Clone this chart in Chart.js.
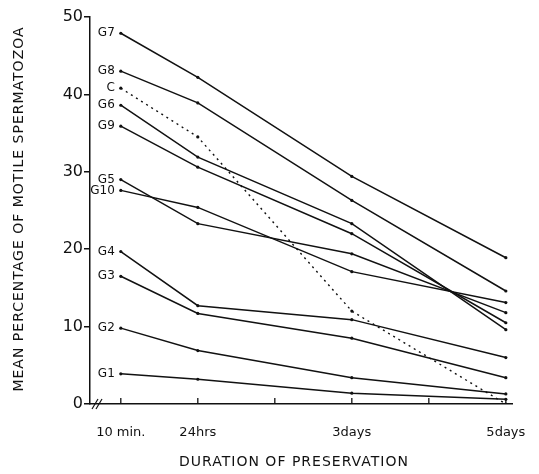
<!DOCTYPE html>
<html>
<head>
<meta charset="utf-8">
<script src="https://cdn.jsdelivr.net/npm/chart.js@4/dist/chart.umd.min.js"></script>
<style>
html,body{margin:0;padding:0;background:#fff;}
#wrap{width:539px;height:474px;position:relative;}
</style>
</head>
<body>
<div id="wrap"><canvas id="chart"></canvas></div>
<script>
// ---- data ----
const days = [0, 1, 3, 5];
const dayLabels = {0: "10 min.", 1: "24hrs", 3: "3days", 5: "5days"};
const yTicks = [0, 10, 20, 30, 40, 50];

const groups = ["G7", "G8", "C", "G6", "G9", "G5", "G10", "G4", "G3", "G2", "G1"];
const g7  = [47.9, 42.2, 29.4, 18.9];
const g8  = [43.0, 38.9, 26.3, 14.6];
const ctl = [40.8, 34.5, 12.0, 0.0];
const g6  = [38.6, 31.9, 23.3, 9.6];
const g9  = [35.9, 30.6, 22.0, 10.5];
const g5  = [29.0, 23.3, 19.4, 11.8];
const g10 = [27.6, 25.4, 17.1, 13.1];
const g4  = [19.7, 12.7, 10.9, 6.0];
const g3  = [16.5, 11.7, 8.5, 3.4];
const g2  = [9.8, 6.9, 3.4, 1.3];
const g1  = [3.9, 3.2, 1.4, 0.6];
const values = [g7, g8, ctl, g6, g9, g5, g10, g4, g3, g2, g1];

const INK = "#111";
const FONT = "'DejaVu Sans', sans-serif";

function makeSet(name, vals){
  return {
    label: name,
    data: vals.map((v, i) => ({x: days[i], y: v})),
    borderColor: INK,
    backgroundColor: INK,
    borderWidth: name === "C" ? 1.4 : 1.5,
    borderDash: name === "C" ? [2, 4] : [],
    pointRadius: 1.6,
    pointHoverRadius: 1.6,
    pointBorderWidth: 0,
    tension: 0
  };
}

// ---- extra drawing: group names, up ticks, axis break, axis titles ----
const decor = {
  id: "decor",
  afterDatasetsDraw(chart){
    const ctx = chart.ctx;
    const xs = chart.scales.x, ys = chart.scales.y;
    const bottom = ys.getPixelForValue(0);
    ctx.save();
    ctx.fillStyle = INK;
    ctx.strokeStyle = INK;

    // names at the start of each line
    ctx.font = "12px " + FONT;
    ctx.textAlign = "right";
    ctx.textBaseline = "middle";
    chart.data.datasets.forEach((ds, i) => {
      const p = chart.getDatasetMeta(i).data[0];
      ctx.fillText(ds.label, p.x - 6, p.y);
    });

    // small ticks pointing up on the time axis
    ctx.lineWidth = 1.3;
    for (let d = 0; d <= 5; d++){
      const x = xs.getPixelForValue(d);
      ctx.beginPath();
      ctx.moveTo(x, bottom);
      ctx.lineTo(x, bottom - 6);
      ctx.stroke();
    }

    // the // break near the origin
    ctx.lineWidth = 1.2;
    [5, 9].forEach(off => {
      const x = xs.left + off;
      ctx.beginPath();
      ctx.moveTo(x - 3, bottom + 5);
      ctx.lineTo(x + 3, bottom - 5);
      ctx.stroke();
    });

    // axis titles
    ctx.font = "14px " + FONT;
    ctx.letterSpacing = "1px";
    ctx.textAlign = "center";
    ctx.textBaseline = "middle";
    ctx.fillText("DURATION OF PRESERVATION", 294, 462);
    ctx.translate(19, 209);
    ctx.rotate(-Math.PI / 2);
    ctx.fillText("MEAN PERCENTAGE OF MOTILE SPERMATOZOA", 0, 0);
    ctx.restore();
  }
};

new Chart(document.getElementById("chart"), {
  type: "line",
  data: { datasets: groups.map((g, i) => makeSet(g, values[i])) },
  options: {
    responsive: true,
    maintainAspectRatio: false,
    animation: false,
    layout: { padding: { top: 17, right: 27, bottom: 0, left: 0 } },
    plugins: { legend: { display: false }, tooltip: { enabled: false } },
    scales: {
      x: {
        type: "linear",
        min: -0.4,
        max: 5.08,
        afterBuildTicks: s => { s.ticks = days.concat([2, 4]).sort().map(v => ({value: v})); },
        afterFit: s => { s.height = 70; },
        grid: { display: false },
        border: { display: true, color: INK, width: 1.5 },
        ticks: {
          autoSkip: false,
          maxRotation: 0,
          padding: 13,
          color: INK,
          font: { family: FONT, size: 13 },
          callback: v => dayLabels[v] || ""
        }
      },
      y: {
        min: 0,
        max: 50,
        afterBuildTicks: s => { s.ticks = yTicks.map(v => ({value: v})); },
        afterFit: s => { s.width = 90; },
        grid: { drawOnChartArea: false, tickLength: 6, color: INK, lineWidth: 1.5 },
        border: { display: true, color: INK, width: 1.5 },
        ticks: {
          padding: 1,
          color: INK,
          font: { family: FONT, size: 16 }
        }
      }
    }
  },
  plugins: [decor]
});
</script>
</body>
</html>
